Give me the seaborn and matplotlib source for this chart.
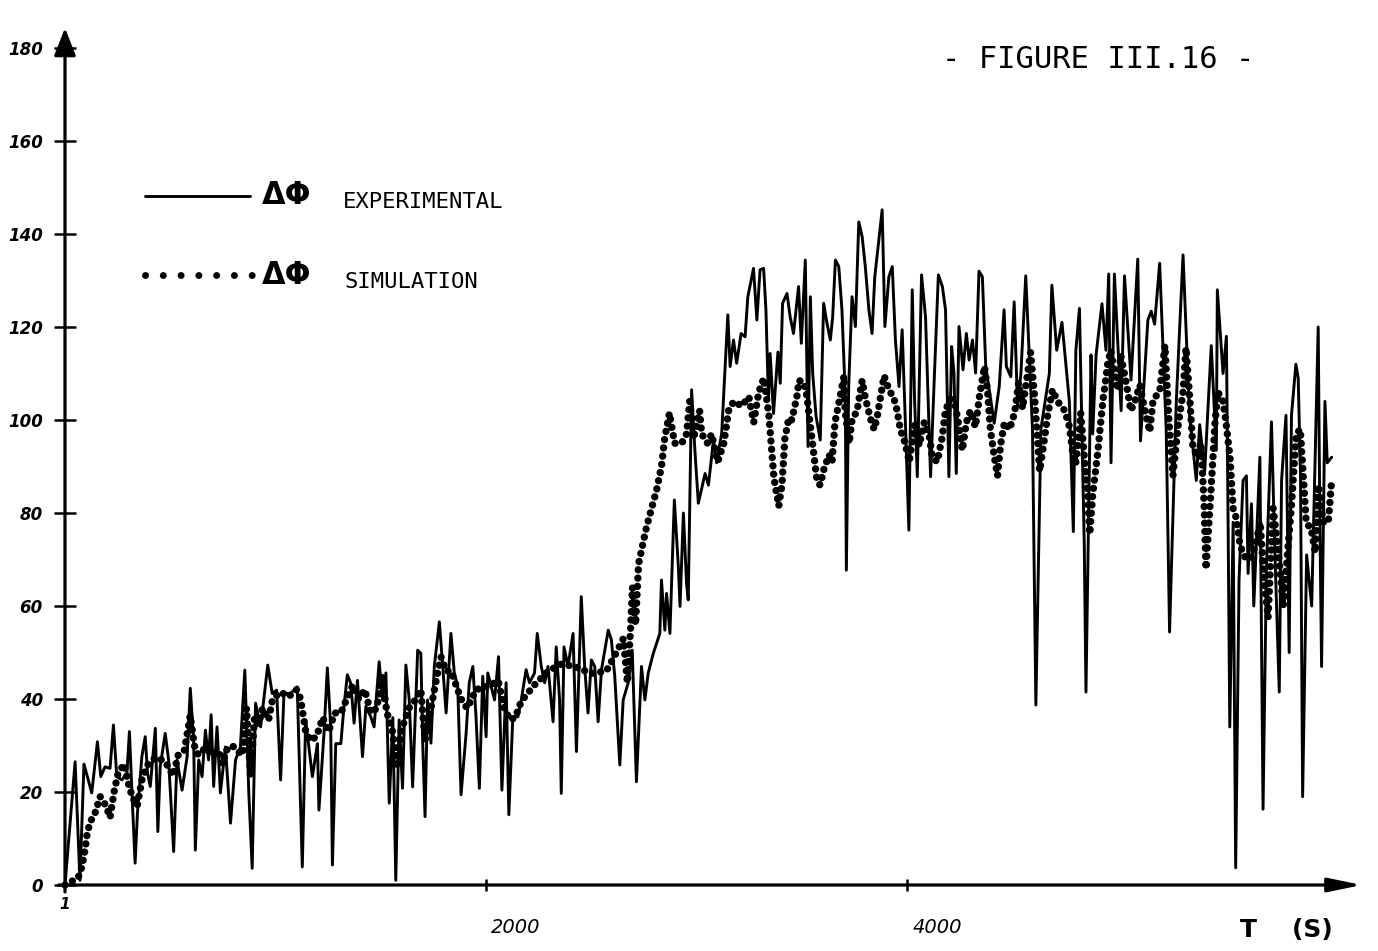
import matplotlib
matplotlib.use("Agg")
import matplotlib.pyplot as plt
from matplotlib.lines import Line2D
from matplotlib.transforms import ScaledTranslation
import seaborn as sns
import pandas as pd

# ---------------------------------------------------------------------------
# Data: phase shift (degrees) versus time (s)
# ---------------------------------------------------------------------------
exp_t = [
    0, 48, 71, 90, 127, 154, 170, 190, 214, 230,
    246, 270, 294, 306, 318, 333, 344, 365, 381, 392,
    405, 429, 441, 452, 476, 492, 516, 532, 556, 580,
    595, 611, 619, 635, 651, 667, 682, 694, 706, 722,
    738, 762, 786, 810, 833, 854, 873, 889, 905, 929,
    963, 984, 1005, 1024, 1040, 1071, 1103, 1127, 1143, 1175,
    1199, 1206, 1230, 1246, 1262, 1270, 1286, 1310, 1325, 1341,
    1357, 1373, 1389, 1413, 1429, 1452, 1468, 1492, 1508, 1524,
    1540, 1557, 1571, 1587, 1603, 1619, 1635, 1651, 1675, 1690,
    1699, 1710, 1722, 1738, 1754, 1778, 1794, 1810, 1833, 1849,
    1865, 1881, 1905, 1920, 1937, 1952, 1968, 1984, 2000, 2008,
    2040, 2059, 2075, 2095, 2108, 2127, 2151, 2167, 2190, 2206,
    2230, 2243, 2262, 2278, 2294, 2318, 2333, 2349, 2357, 2370,
    2389, 2413, 2429, 2452, 2468, 2484, 2500, 2516, 2532, 2548,
    2580, 2595, 2611, 2635, 2651, 2675, 2694, 2714, 2738, 2754,
    2770, 2794, 2825, 2833, 2849, 2857, 2873, 2894, 2913, 2921,
    2937, 2952, 2960, 2976, 2992, 3008, 3040, 3056, 3080, 3095,
    3119, 3148, 3159, 3175, 3190, 3211, 3230, 3243, 3270, 3286,
    3301, 3318, 3329, 3341, 3349, 3365, 3386, 3397, 3408, 3429,
    3444, 3460, 3484, 3497, 3516, 3529, 3540, 3551, 3567, 3587,
    3603, 3619, 3635, 3646, 3659, 3675, 3690, 3706, 3711, 3722,
    3738, 3754, 3770, 3786, 3801, 3818, 3833, 3846, 3865, 3881,
    3894, 3913, 3929, 3944, 3961, 3976, 3992, 4008, 4024, 4035,
    4048, 4068, 4087, 4111, 4127, 4148, 4167, 4182, 4198, 4211,
    4222, 4233, 4246, 4265, 4281, 4294, 4310, 4325, 4341, 4357,
    4373, 4397, 4413, 4437, 4460, 4471, 4492, 4508, 4524, 4540,
    4563, 4595, 4611, 4635, 4675, 4687, 4710, 4735, 4770, 4789,
    4801, 4818, 4841, 4849, 4873, 4881, 4897, 4925, 4944, 4957,
    4968, 4984, 5016, 5032, 5063, 5095, 5108, 5143, 5159, 5175,
    5199, 5230, 5246, 5278, 5310, 5341, 5373, 5389, 5413, 5444,
    5468, 5473, 5500, 5516, 5524, 5532, 5548, 5560, 5576, 5595,
    5611, 5619, 5635, 5646, 5675, 5690, 5706, 5730, 5746, 5767,
    5778, 5799, 5814, 5825, 5846, 5857, 5868, 5878, 5897, 5921,
    5952, 5960, 5968, 5984, 5995, 6016,
]
exp_dphi = [
    0, 26.5, 1, 26, 19.8, 30.8, 23.3, 25.4, 25.1, 34.4,
    23.3, 22.6, 24, 33, 19.8, 4.7, 15.4, 27.6, 31.9, 24,
    21.2, 33.7, 11.5, 25.4, 32.6, 26.9, 7.2, 26.9, 20.4, 27.6,
    42.3, 31.2, 7.5, 26.9, 23.3, 33.3, 26.9, 36.6, 21.2, 34,
    19.8, 29.7, 13.3, 26.9, 29.7, 46.2, 19.8, 3.6, 39.1, 34,
    47.3, 41.2, 41.9, 22.6, 41.2, 41.2, 42.6, 3.9, 35.5, 23.3,
    30.4, 16.1, 32.6, 46.7, 34, 4.3, 30.4, 30.4, 38.4, 45.2,
    43.4, 34.8, 44, 27.6, 38.4, 36.2, 34, 48, 39.8, 45.6,
    17.6, 36, 1, 35.5, 20.8, 47.3, 39.8, 21.1, 50.5, 49.8,
    30.5, 14.7, 39.8, 30.5, 47, 56.6, 47, 37, 54.1, 45.6,
    42.8, 19.4, 32.6, 43.5, 47, 36.2, 20.8, 44.9, 31.9, 45.6,
    39.8, 49.1, 20.4, 43.5, 15.1, 36.2, 36.2, 39.8, 46.3, 43.5,
    45.6, 54.1, 47, 43.5, 47, 35.1, 51.2, 39.8, 19.7, 51.2,
    47, 54.1, 28.7, 62, 47, 37, 48.4, 47, 35.1, 46.3,
    54.8, 52.7, 44.9, 25.8, 39.8, 43.5, 50.5, 22.2, 47, 39.8,
    45.6, 49.8, 54.1, 65.6, 54.8, 62.7, 54.1, 82.8, 68.5, 59.9,
    80, 64.9, 61.3, 106.5, 93.2, 82.1, 88.5, 86, 95.7, 90.8,
    97.2, 122.6, 111.5, 117.2, 112.2, 118.6, 117.9, 126.5, 132.6, 121.5,
    132.3, 132.6, 123.7, 104.3, 114.3, 101.4, 114.6, 107.9, 125.1, 127.2,
    122.2, 118.6, 128.7, 116.5, 134.4, 94.3, 126.5, 110.1, 100.8, 95.7,
    125.1, 120.8, 117.2, 122.2, 134.4, 133, 123.7, 105.1, 67.7, 107.2,
    126.5, 120.1, 142.6, 139.4, 133, 123.7, 118.6, 130.8, 138.7, 145.2,
    120.1, 130.8, 133, 117.2, 107.2, 119.4, 98.6, 76.3, 128, 104.3,
    87.8, 131.2, 122.2, 87.8, 107.2, 131.2, 128.7, 123.7, 87.8, 115.8,
    110.1, 88.5, 120.1, 110.8, 118.6, 112.9, 117.2, 110.1, 132, 130.8,
    111.5, 104.3, 99.3, 107.2, 123.7, 111.5, 109.3, 125.4, 103, 110,
    131, 98, 38.7, 98, 110, 129, 115, 121, 104, 76,
    115, 124, 73, 41.5, 114, 97, 114, 125, 115, 131.4,
    90.8, 131.4, 102, 131, 108.6, 134.6, 95.5, 121.5, 123.4, 120.6,
    133.7, 98, 54.4, 104, 135.5, 101, 87, 99, 89, 116,
    93.5, 128, 110, 118, 78, 34, 78, 3.7, 65.6, 87,
    88, 67, 82, 60, 92, 16.3, 68, 99.6, 72, 41.5,
    87, 101, 50, 101, 112, 109, 88, 19, 71, 60,
    120, 78, 47, 104, 90.8, 92,
]

sim_t = [
    0, 62, 81, 95, 105, 119, 143, 167, 195, 214,
    233, 252, 281, 300, 319, 343, 367, 395, 433, 476,
    514, 538, 567, 595, 614, 633, 667, 700, 729, 748,
    767, 795, 814, 843, 862, 881, 900, 919, 938, 967,
    986, 1024, 1062, 1100, 1119, 1143, 1167, 1195, 1224, 1252,
    1281, 1310, 1338, 1367, 1395, 1424, 1452, 1481, 1505, 1529,
    1552, 1576, 1595, 1633, 1667, 1690, 1710, 1738, 1767, 1786,
    1810, 1833, 1881, 1910, 1952, 2024, 2057, 2086, 2114, 2138,
    2167, 2229, 2295, 2357, 2419, 2500, 2571, 2619, 2652, 2671,
    2686, 2695, 2710, 2724, 2738, 2762, 2786, 2810, 2833, 2848,
    2871, 2895, 2929, 2952, 2967, 2986, 3014, 3024, 3052, 3071,
    3100, 3129, 3152, 3176, 3214, 3248, 3271, 3295, 3319, 3343,
    3367, 3390, 3405, 3419, 3438, 3452, 3476, 3486, 3510, 3524,
    3538, 3557, 3571, 3586, 3605, 3629, 3643, 3657, 3681, 3700,
    3705, 3724, 3738, 3762, 3786, 3800, 3824, 3843, 3857, 3890,
    3914, 3938, 3952, 3967, 3990, 4010, 4024, 4038, 4057, 4081,
    4105, 4119, 4143, 4167, 4181, 4205, 4229, 4248, 4262, 4281,
    4300, 4324, 4343, 4367, 4381, 4395, 4414, 4429, 4443, 4462,
    4486, 4510, 4529, 4548, 4586, 4605, 4629, 4652, 4667, 4690,
    4714, 4748, 4771, 4786, 4800, 4819, 4824, 4843, 4857, 4867,
    4881, 4905, 4929, 4952, 4967, 4986, 5000, 5014, 5038, 5062,
    5081, 5105, 5129, 5152, 5167, 5200, 5224, 5243, 5262, 5286,
    5310, 5324, 5343, 5357, 5381, 5395, 5410, 5419, 5443, 5462,
    5476, 5500, 5514, 5533, 5548, 5562, 5581, 5595, 5610, 5633,
    5657, 5676, 5695, 5714, 5738, 5762, 5786, 5810, 5824, 5848,
    5867, 5881, 5895, 5919, 5938, 5952, 5976, 6000, 6014,
]
sim_dphi = [
    0, 1.5, 4, 7.5, 11, 13.5, 15.5, 19, 17, 14.5,
    20, 24, 26, 22, 19, 17, 23, 26, 27.5, 26.5,
    23.5, 28, 29, 36.5, 30, 28, 29.5, 28, 29, 26,
    29, 30, 29, 28, 38, 23.5, 36, 34.5, 38, 35.5,
    40, 41.5, 40.5, 42, 40, 33, 31, 32, 36, 33,
    37, 37, 40, 43, 40, 42, 37, 38, 45, 37,
    34, 26, 33, 38, 40, 42, 31, 38, 45, 49,
    46, 46, 40, 38, 42, 43, 44, 38, 35.5, 36,
    39.5, 43, 46, 47.5, 47, 45.5, 46, 50, 53, 43.5,
    55, 64, 56, 69, 72, 77, 81, 85, 90, 96,
    101.5, 95, 95, 97, 104, 96, 102, 97, 95, 97,
    91, 95, 102, 104, 103, 105, 99.5, 106, 109, 101,
    87.5, 81.5, 86, 96, 100.5, 100, 105, 108.5, 108, 105,
    99.5, 92.5, 87, 86, 89.5, 92.5, 91, 99.5, 105, 109.5,
    102, 95, 100, 102, 108.5, 105, 100.5, 98, 100.5, 109.5,
    106.5, 104.5, 102, 98, 95, 91, 95.5, 99.5, 94.5, 99.5,
    96.5, 92, 91, 96.5, 102, 104.5, 103, 98, 93.5, 99.5,
    102, 98.5, 105, 111.5, 106.5, 98, 92, 88, 94.5, 99.5,
    98, 101.5, 108, 102.5, 114.5, 105, 89, 96, 101, 106.5,
    104, 102, 98.5, 93, 90.5, 98.5, 101.5, 91, 84, 75.5,
    84, 93, 104, 112, 115, 109.5, 106.5, 114, 108.5, 102,
    104, 107.5, 102, 97.5, 104, 106.5, 116, 100, 88, 98.5,
    106, 115.5, 104, 94, 92, 95, 82, 68, 85, 99.5,
    106, 104, 99.5, 92, 81, 79, 73, 71.5, 70, 70.5,
    73.5, 78, 66, 57.5, 81, 72, 60, 73.5, 81, 97,
    98, 88, 78, 76.5, 71.5, 86, 78, 78, 86,
]

y_ticks = [0, 20, 40, 60, 80, 100, 120, 140, 160, 180]
x_ticks = [2000, 4000]

exp_df = pd.DataFrame({"t": exp_t, "dphi": exp_dphi})
sim_df = pd.DataFrame({"t": sim_t, "dphi": sim_dphi})

# ---------------------------------------------------------------------------
# Figure
# ---------------------------------------------------------------------------
sns.set_theme(style="white")
plt.rcParams["font.family"] = ["DejaVu Sans"]
plt.rcParams["text.color"] = "black"

W, H = 1378, 951
fig = plt.figure(figsize=(W / 100, H / 100), dpi=100)
fig.patch.set_facecolor("white")


def fx(px):
    return px / W


def fy(py):
    return 1 - py / H


# axes box: origin at pixel (65, 885), arrow tips at x=1362 / y=28
ax = fig.add_axes([fx(65), fy(885), fx(1362) - fx(65), fy(28) - fy(885)])
ax.set_facecolor("none")
ax.set_xlim(0, 6160)
ax.set_ylim(0, 184.3)

# plotter dot pattern for the simulated curve
DOT_LW = 5.3
DOTS = (0, (0.01, 1.12))

# measured signal (solid) and simulated signal (dots)
sns.lineplot(data=exp_df, x="t", y="dphi", ax=ax, sort=False, estimator=None,
             color="black", linewidth=2.1, clip_on=False)
sns.lineplot(data=sim_df, x="t", y="dphi", ax=ax, sort=False, estimator=None,
             color="black", linewidth=DOT_LW, linestyle=DOTS,
             dash_capstyle="round", clip_on=False)

# axes drawn as arrows
for s in ax.spines.values():
    s.set_visible(False)
ax.annotate("", xy=(6160, 0), xytext=(-30, 0), xycoords="data",
            arrowprops=dict(arrowstyle="-|>,head_length=1.7,head_width=0.35",
                            lw=2.3, color="black", shrinkA=0, shrinkB=0,
                            mutation_scale=12),
            annotation_clip=False)
ax.annotate("", xy=(0, 184.3), xytext=(0, -1.5), xycoords="data",
            arrowprops=dict(arrowstyle="-|>,head_length=1.4,head_width=0.55",
                            lw=2.3, color="black", shrinkA=0, shrinkB=0,
                            mutation_scale=12),
            annotation_clip=False)

ax.set_yticks(y_ticks)
ax.set_yticklabels([str(v) for v in y_ticks])
ax.set_xticks(x_ticks)
ax.set_xticklabels([str(v) for v in x_ticks])
ax.tick_params(axis="y", direction="inout", length=16, width=1.8, pad=8,
               left=True, labelsize=12, colors="black")
ax.tick_params(axis="x", direction="inout", length=9, width=1.8, pad=19,
               bottom=True, labelsize=14, colors="black")
for lab in ax.get_yticklabels():
    lab.set_fontstyle("italic")
    lab.set_fontweight("bold")
shift = ScaledTranslation(5 / 100, 0, fig.dpi_scale_trans)
for lab in ax.get_xticklabels():
    lab.set_fontstyle("italic")
    lab.set_horizontalalignment("left")
    lab.set_transform(lab.get_transform() + shift)
ax.set_xlabel("")
ax.set_ylabel("")

# small mark under the origin
ax.text(0, -4.3, "1", ha="center", va="center", fontsize=11, color="black",
        fontstyle="italic", fontweight="bold", clip_on=False)

# axis unit
fig.text(fx(1240), fy(930), "T    (S)", ha="left", va="center",
         fontsize=18, fontweight="bold", color="black")

# title
fig.text(fx(1098), fy(60), "- FIGURE III.16 -", ha="center", va="center",
         family="DejaVu Sans Mono", fontsize=22, color="black")

# legend, drawn by hand
fig.add_artist(Line2D([fx(145), fx(250)], [fy(196), fy(196)],
                      transform=fig.transFigure, color="black", lw=2.1))
fig.add_artist(Line2D([fx(145), fx(252)], [fy(275), fy(275)],
                      transform=fig.transFigure, color="black", lw=5.0,
                      linestyle=(0, (0.01, 2.55)), dash_capstyle="round"))
for py in (196, 275):
    fig.text(fx(262), fy(py), "ΔΦ", ha="left", va="center",
             fontsize=22, fontweight="bold", color="black")
fig.text(fx(343), fy(202), "EXPERIMENTAL", ha="left", va="center",
         family="DejaVu Sans Mono", fontsize=16, color="black")
fig.text(fx(345), fy(282), "SIMULATION", ha="left", va="center",
         family="DejaVu Sans Mono", fontsize=16, color="black")

fig.savefig("out.png", dpi=100, facecolor="white")
